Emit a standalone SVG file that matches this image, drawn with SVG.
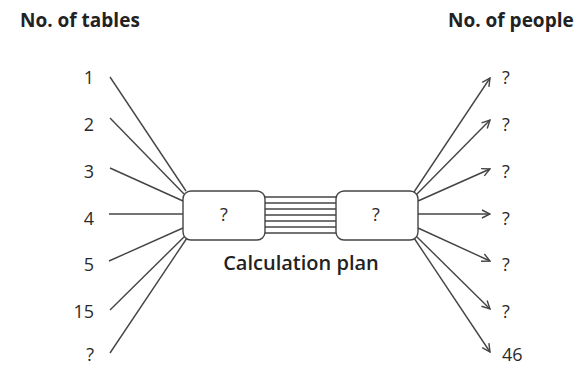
<svg xmlns="http://www.w3.org/2000/svg" width="581" height="366" viewBox="0 0 581 366">
<style>
.hdr{font-family:"Open Sans","Liberation Sans",sans-serif;font-weight:700;font-size:19px;fill:#222}
.lbl{font-family:"Open Sans","Liberation Sans",sans-serif;font-size:18px;fill:#2a2a2a}
.cap{font-family:"Open Sans","Liberation Sans",sans-serif;font-weight:600;font-size:20px;fill:#222}
.ln{stroke:#444;stroke-width:1.4;fill:none}
.box{fill:#fff;stroke:#444;stroke-width:1.4}
</style>
<defs>
<marker id="arr" viewBox="0 0 10 10" refX="9" refY="5" markerWidth="10" markerHeight="10" markerUnits="userSpaceOnUse" orient="auto">
<path d="M1,1 L9,5 L1,9" fill="none" stroke="#444" stroke-width="1.4"/>
</marker>
</defs>
<rect width="581" height="366" fill="#fff"/>
<text class="hdr" x="20" y="27">No. of tables</text>
<text class="hdr" x="448" y="27">No. of people</text>
<g id="inputs">
<text class="lbl" x="94" y="84" text-anchor="end">1</text>
<text class="lbl" x="94" y="131" text-anchor="end">2</text>
<text class="lbl" x="94" y="178" text-anchor="end">3</text>
<text class="lbl" x="94" y="225" text-anchor="end">4</text>
<text class="lbl" x="94" y="271" text-anchor="end">5</text>
<text class="lbl" x="94" y="318" text-anchor="end">15</text>
<text class="lbl" x="94" y="361" text-anchor="end">?</text>
</g>
<g id="outputs">
<text class="lbl" x="502" y="84">?</text>
<text class="lbl" x="502" y="131">?</text>
<text class="lbl" x="502" y="178">?</text>
<text class="lbl" x="502" y="225">?</text>
<text class="lbl" x="502" y="271">?</text>
<text class="lbl" x="502" y="318">?</text>
<text class="lbl" x="502" y="361">46</text>
</g>
<g id="connectors">
<line class="ln" x1="110" y1="77" x2="186" y2="191"/>
<line class="ln" x1="110" y1="118" x2="184" y2="194"/>
<line class="ln" x1="110" y1="168" x2="183" y2="201"/>
<line class="ln" x1="109" y1="214" x2="183" y2="214"/>
<line class="ln" x1="109" y1="261" x2="183" y2="228"/>
<line class="ln" x1="110" y1="310" x2="185" y2="236"/>
<line class="ln" x1="110" y1="353" x2="187" y2="238"/>
<line class="ln" x1="265" y1="197" x2="336" y2="197"/>
<line class="ln" x1="265" y1="203" x2="336" y2="203"/>
<line class="ln" x1="265" y1="209" x2="336" y2="209"/>
<line class="ln" x1="265" y1="215" x2="336" y2="215"/>
<line class="ln" x1="265" y1="221" x2="336" y2="221"/>
<line class="ln" x1="265" y1="227" x2="336" y2="227"/>
<line class="ln" x1="265" y1="233" x2="336" y2="233"/>
<line class="ln" x1="414" y1="192" x2="490" y2="78" marker-end="url(#arr)"/>
<line class="ln" x1="416" y1="195" x2="490" y2="120" marker-end="url(#arr)"/>
<line class="ln" x1="418" y1="201" x2="490" y2="169" marker-end="url(#arr)"/>
<line class="ln" x1="418" y1="214" x2="490" y2="214" marker-end="url(#arr)"/>
<line class="ln" x1="418" y1="228" x2="490" y2="261" marker-end="url(#arr)"/>
<line class="ln" x1="416" y1="236" x2="490" y2="309" marker-end="url(#arr)"/>
<line class="ln" x1="414" y1="238" x2="490" y2="352" marker-end="url(#arr)"/>
</g>
<g id="box-left">
<rect class="box" x="183" y="191" width="82" height="49" rx="8"/>
<text class="lbl" x="224" y="221" text-anchor="middle">?</text>
</g>
<g id="box-right">
<rect class="box" x="336" y="191" width="82" height="49" rx="8"/>
<text class="lbl" x="376" y="221" text-anchor="middle">?</text>
</g>
<text class="cap" x="301" y="270" text-anchor="middle">Calculation plan</text>
</svg>
